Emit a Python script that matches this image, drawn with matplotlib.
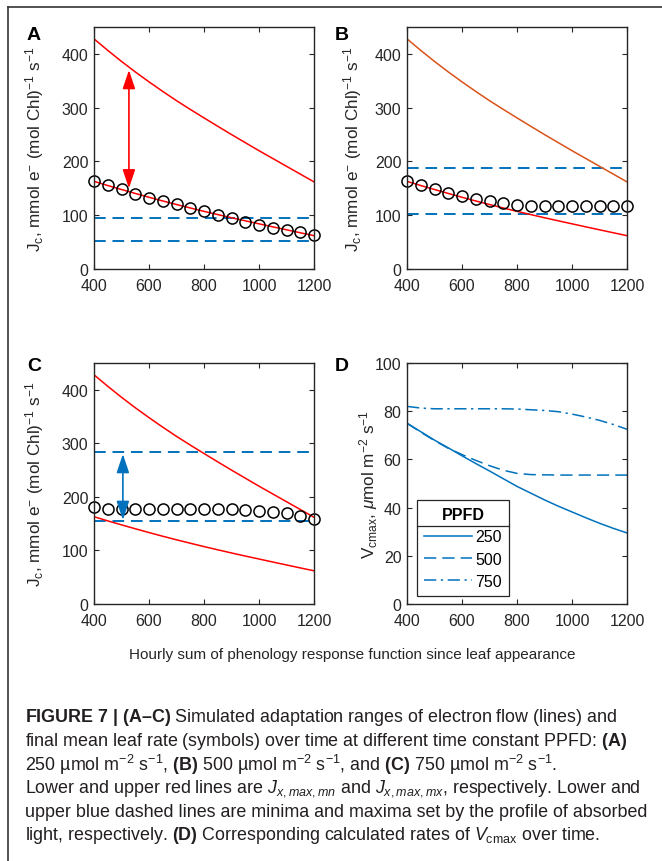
import matplotlib.pyplot as plt
from matplotlib.lines import Line2D

plt.rcParams['font.family'] = ['Liberation Sans', 'DejaVu Sans']
plt.rcParams['mathtext.fontset'] = 'custom'
plt.rcParams['mathtext.rm'] = 'Liberation Sans'
plt.rcParams['mathtext.it'] = 'Liberation Sans:italic'
plt.rcParams['mathtext.bf'] = 'Liberation Sans:bold'

# hourly sum of phenology response function
hours = [400, 450, 500, 550, 600, 650, 700, 750, 800,
         850, 900, 950, 1000, 1050, 1100, 1150, 1200]

# upper / lower red lines (J x,max,mx and J x,max,mn)
j_max_mx = [428, 406.5, 386, 366.5, 348, 330.2, 313, 296.8, 281,
            265.4, 250, 235, 220, 205.5, 191, 176.5, 162]
j_max_mn = [163, 155.2, 147.8, 140.5, 133.4, 126.5, 119.9, 113.5, 107.2,
            101.2, 95.3, 89.6, 84.0, 78.4, 72.9, 67.4, 62]

# final mean leaf rate (symbols)
rate_a = [164, 157, 148, 140, 132, 126, 120, 113, 107, 100, 94, 88, 82, 77, 73, 68, 64]
rate_b = [163, 157, 148, 141, 135, 130, 126, 122, 119, 118, 118, 118, 118, 118, 118, 118, 118]
rate_c = [181, 178, 178, 178, 178, 178, 178, 178, 178, 178, 177, 176, 174, 172, 169, 165, 159]

# minima / maxima set by profile of absorbed light
light_a = [52, 95]
light_b = [103, 188]
light_c = [155, 283]

# double arrows (x, low, high)
arrow_a = (527, 150, 370)
arrow_c = (505, 157, 280)

# panel D, Vcmax per PPFD
ppfd = ['250', '500', '750']
vcmax_250 = [75, 71.5, 68, 64.8, 61.5, 58.3, 55.2, 52, 48.8, 46, 43.2, 40.6, 38.2, 35.8, 33.5, 31.4, 29.5]
vcmax_500 = [75, 71.3, 67.8, 64.6, 62, 59.6, 57.4, 55.5, 54.2, 53.7, 53.6, 53.5, 53.5, 53.5, 53.5, 53.5, 53.5]
vcmax_750 = [82, 81.3, 81, 81, 81, 81, 81, 81, 80.9, 80.6, 80.3, 79.8, 78.8, 77.6, 76.2, 74.5, 72.5]

RED = '#FF0000'
ORANGE = '#D95319'
BLUE = '#0072BD'
DARK = '#262626'
W, H = 662, 862

fig = plt.figure(figsize=(W / 100, H / 100), dpi=100)


def axes_at(left, top, right, bottom):
    return fig.add_axes([left / W, 1 - bottom / H, (right - left) / W, (bottom - top) / H])


def style(ax, ymax, ystep):
    ax.set_xlim(400, 1200)
    ax.set_xticks(range(400, 1201, 200))
    ax.set_ylim(0, ymax)
    ax.set_yticks(range(0, ymax, ystep))
    ax.tick_params(direction='in', top=True, right=True, length=3.5, width=0.8,
                   labelsize=11.5, colors=DARK)
    ax.tick_params(axis='x', pad=6.5)
    ax.tick_params(axis='y', pad=4)
    for sp in ax.spines.values():
        sp.set_color(DARK)
        sp.set_linewidth(1.0)


def j_panel(ax, sym, light, upper_color, arrow=None, arrow_color=None):
    for v in light:
        ax.axhline(v, color=BLUE, lw=1.4, ls=(0, (6, 3.5)))
    ax.plot(hours, j_max_mx, color=upper_color, lw=1.1)
    ax.plot(hours, j_max_mn, color=RED, lw=1.1)
    if arrow:
        ax.annotate('', xy=(arrow[0], arrow[2]), xytext=(arrow[0], arrow[1]),
                    arrowprops=dict(arrowstyle='<|-|>,head_length=0.95,head_width=0.32',
                                    color=arrow_color, lw=1.2,
                                    mutation_scale=12, shrinkA=0, shrinkB=0))
    ax.plot(hours, sym, 'o', mfc='none', mec='black', ms=8, mew=1.1, clip_on=False)
    style(ax, 450, 100)
    ax.set_ylabel(r'J$_\mathrm{c}$, mmol e$^{-}$ (mol Chl)$^{-1}$ s$^{-1}$',
                  fontsize=12.3, color=DARK, va='center')


ax_a = axes_at(94, 28, 314, 270)
ax_b = axes_at(407, 28, 627, 270)
ax_c = axes_at(94, 364, 314, 605)
ax_d = axes_at(407, 364, 627, 605)

j_panel(ax_a, rate_a, light_a, RED, arrow_a, RED)
j_panel(ax_b, rate_b, light_b, ORANGE)
j_panel(ax_c, rate_c, light_c, RED, arrow_c, BLUE)
ax_a.yaxis.set_label_coords((35 - 94) / 220, 0.5)
ax_b.yaxis.set_label_coords((353 - 407) / 220, 0.5)
ax_c.yaxis.set_label_coords((35 - 94) / 220, 0.5)

ax_d.plot(hours, vcmax_250, color=BLUE, lw=1.1, label=ppfd[0])
ax_d.plot(hours, vcmax_500, color=BLUE, lw=1.1, ls=(0, (8, 4)), label=ppfd[1])
ax_d.plot(hours, vcmax_750, color=BLUE, lw=1.1, ls=(0, (8, 3, 1.5, 3)), label=ppfd[2])
style(ax_d, 101, 20)
ax_d.set_ylim(0, 100)
ax_d.set_ylabel(r'V$_\mathrm{cmax}$, $\mu$mol m$^{-2}$ s$^{-1}$', fontsize=12.3, color=DARK, va='center')
ax_d.yaxis.set_label_coords((369 - 407) / 220, 0.5)
leg = ax_d.legend(title='PPFD', loc='lower left', bbox_to_anchor=(10 / 220, 8 / 241), borderaxespad=0,
                  fancybox=False, edgecolor=DARK, framealpha=1, fontsize=11.5, title_fontsize=11.5,
                  handlelength=3.0, handletextpad=0.2, labelspacing=0.45, borderpad=0.45)
leg.get_title().set_fontweight('bold')
leg.get_frame().set_linewidth(0.9)

for letter, x, y in [('A', 27, 36), ('B', 335, 36), ('C', 27, 367), ('D', 335, 367)]:
    fig.text(x / W, 1 - y / H, letter, fontsize=14, fontweight='bold', va='center', color='black')

fig.text(352 / W, 1 - 655 / H, 'Hourly sum of phenology response function since leaf appearance',
         fontsize=11, ha='center', va='center', color=DARK)

# figure frame (top and left edges)
fig.add_artist(Line2D([8 / W, 1], [1 - 8 / H, 1 - 8 / H], transform=fig.transFigure, color='#333333', lw=1.2))
fig.add_artist(Line2D([8 / W, 8 / W], [0, 1 - 8 / H], transform=fig.transFigure, color='#333333', lw=1.2))

caption = [
    r'$\mathbf{FIGURE\ 7\ |\ (A–C)}$ Simulated adaptation ranges of electron flow (lines) and',
    r'final mean leaf rate (symbols) over time at different time constant PPFD: $\mathbf{(A)}$',
    r'250 µmol m$^{-2}$ s$^{-1}$, $\mathbf{(B)}$ 500 µmol m$^{-2}$ s$^{-1}$, and $\mathbf{(C)}$ 750 µmol m$^{-2}$ s$^{-1}$.',
    r'Lower and upper red lines are $J_{x,max,mn}$ and $J_{x,max,mx}$, respectively. Lower and',
    'upper blue dashed lines are minima and maxima set by the profile of absorbed',
    r'light, respectively. $\mathbf{(D)}$ Corresponding calculated rates of $V_\mathrm{cmax}$ over time.',
]
for i, line in enumerate(caption):
    fig.text(25 / W, 1 - (718 + i * 23.6) / H, line, fontsize=12.9, va='center', color='#231f20')

# separator under the legend title
fig.canvas.draw()
lb = leg.get_window_extent()
tb = leg.get_title().get_window_extent()
ysep = (tb.y0 - 4) / H
fig.add_artist(Line2D([lb.x0 / W, lb.x1 / W], [ysep, ysep], transform=fig.transFigure, color=DARK, lw=0.9))

fig.savefig('out.png', dpi=100)
